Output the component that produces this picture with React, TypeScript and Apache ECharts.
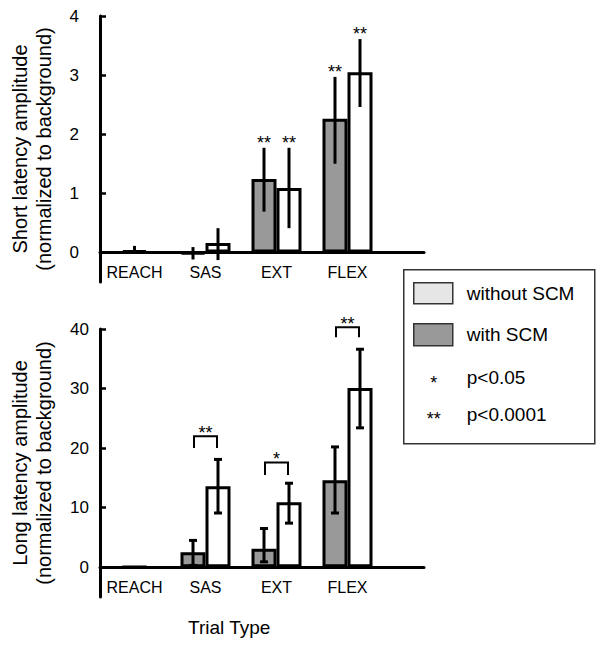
import React, { useEffect, useRef } from "react";
import * as echarts from "echarts";

const categories = ["REACH", "SAS", "EXT", "FLEX"];

// Short latency (top panel)
const shortWith = [null, -0.03, 1.24, 2.26];
const shortWithLow = [null, -0.12, 0.69, 1.5];
const shortWithHigh = [null, 0.09, 1.77, 2.97];
const shortWithout = [null, 0.16, 1.09, 3.05];
const shortWithoutLow = [null, -0.13, 0.41, 2.46];
const shortWithoutHigh = [null, 0.41, 1.77, 3.61];
const shortReach = [0.03, null, null, null];
const shortReachLow = [-0.02, null, null, null];
const shortReachHigh = [0.11, null, null, null];
const shortStarsWith = ["", "", "**", "**"];
const shortStarsWithout = ["", "", "**", "**"];
const shortTicks = [0, 1, 2, 3, 4];

// Long latency (bottom panel)
const longWith = [null, 2.5, 3.1, 14.6];
const longWithLow = [null, 0.3, 0.9, 9.1];
const longWithHigh = [null, 4.5, 6.5, 20.2];
const longWithout = [null, 13.6, 10.9, 30.1];
const longWithoutLow = [null, 9.1, 7.4, 23.4];
const longWithoutHigh = [null, 18.1, 14.1, 36.6];
const longReach = [0.1, null, null, null];
const longReachLow = [0.0, null, null, null];
const longReachHigh = [0.2, null, null, null];
const bracketTop = [null, 22.0, 17.6, 40.3];
const bracketBase = [null, 20.0, 15.5, 38.6];
const bracketStars = ["", "**", "*", "**"];
const longTicks = [0, 10, 20, 30, 40];

const legendLabels = ["without SCM", "with SCM", "p<0.05", "p<0.0001"];
const legendStars = ["*", "**"];

const FONT = "'Liberation Sans', Arial, Helvetica, sans-serif";
const GRAY = "#999999";
const BAR_W = 25;

function errData(low: (number | null)[], high: (number | null)[]) {
  return categories
    .map((_, i) => [i, low[i], high[i]])
    .filter((d) => d[1] != null && d[2] != null);
}

function errorRender(offset: number, cap: number, stars: string[] | null) {
  return (params: any, api: any) => {
    const i = api.value(0);
    const x = api.coord([i, 0])[0] + offset;
    const yl = api.coord([i, api.value(1)])[1];
    const yh = api.coord([i, api.value(2)])[1];
    const children: any[] = [
      {
        type: "line",
        shape: { x1: x, y1: yl, x2: x, y2: yh },
        style: { stroke: "#000", lineWidth: 3 },
      },
    ];
    if (cap > 0) {
      children.push({
        type: "line",
        shape: { x1: x - cap, y1: yh, x2: x + cap, y2: yh },
        style: { stroke: "#000", lineWidth: 3 },
      });
      children.push({
        type: "line",
        shape: { x1: x - cap, y1: yl, x2: x + cap, y2: yl },
        style: { stroke: "#000", lineWidth: 3 },
      });
    }
    const s = stars ? stars[i] : "";
    if (s) {
      children.push({
        type: "text",
        style: {
          text: s,
          x: x,
          y: yh - 5,
          align: "center",
          verticalAlign: "middle",
          fontSize: 18,
          fontFamily: FONT,
          fill: "#000",
        },
      });
    }
    return { type: "group", children };
  };
}

function bracketRender(params: any, api: any) {
  const i = api.value(0);
  const cx = api.coord([i, 0])[0];
  const yt = api.coord([i, api.value(1)])[1];
  const yb = api.coord([i, api.value(2)])[1];
  const xl = cx - BAR_W / 2 + 1;
  const xr = cx + BAR_W / 2 - 1;
  const s = bracketStars[i];
  return {
    type: "group",
    children: [
      {
        type: "polyline",
        shape: { points: [[xl, yb], [xl, yt], [xr, yt], [xr, yb]] },
        style: { stroke: "#000", lineWidth: 2, fill: "none" },
      },
      {
        type: "text",
        style: {
          text: s,
          x: cx,
          y: yt - 3,
          align: "center",
          verticalAlign: "middle",
          fontSize: 18,
          fontFamily: FONT,
          fill: "#000",
        },
      },
    ],
  };
}

function frameYAxis(gridIndex: number, min: number, max: number, ticks: number[], name: string, margin: number) {
  return {
    type: "value",
    gridIndex,
    min,
    max,
    splitLine: { show: false },
    axisLine: { show: true, lineStyle: { color: "#000", width: 3 } },
    axisTick: { show: true, inside: true, length: 6, lineStyle: { color: "#000", width: 2.5 }, customValues: ticks },
    axisLabel: { show: true, customValues: ticks, fontSize: 17, fontFamily: FONT, color: "#000", margin },
    name,
    nameLocation: "middle",
    nameRotate: 90,
    nameGap: 44,
    nameTextStyle: { fontSize: 20, lineHeight: 24, fontFamily: FONT, color: "#000" },
  };
}

function hiddenYAxis(gridIndex: number, min: number, max: number) {
  return {
    type: "value",
    gridIndex,
    min,
    max,
    splitLine: { show: false },
    axisLine: { show: false },
    axisTick: { show: false },
    axisLabel: { show: false },
  };
}

function frameXAxis(gridIndex: number) {
  return {
    type: "value",
    gridIndex,
    min: 0,
    max: 1,
    axisLine: { show: true, onZero: true, lineStyle: { color: "#000", width: 3 } },
    axisTick: { show: false },
    axisLabel: { show: false },
    splitLine: { show: false },
  };
}

function catXAxis(gridIndex: number, showLabels: boolean) {
  return {
    type: "category",
    gridIndex,
    position: "bottom",
    data: categories,
    axisLine: { show: false, onZero: false },
    axisTick: { show: false },
    splitLine: { show: false },
    axisLabel: { show: showLabels, fontSize: 16, fontFamily: FONT, color: "#000", margin: 12, interval: 0 },
  };
}

function barSeries(name: string, xAxisIndex: number, yAxisIndex: number, data: (number | null)[], color: string) {
  return {
    type: "bar",
    name,
    xAxisIndex,
    yAxisIndex,
    data,
    barWidth: BAR_W,
    barGap: "0%",
    clip: false,
    itemStyle: { color, borderColor: "#000", borderWidth: 3 },
    z: 2,
  };
}

function errSeries(xAxisIndex: number, yAxisIndex: number, low: any[], high: any[], offset: number, cap: number, stars: string[] | null) {
  return {
    type: "custom",
    xAxisIndex,
    yAxisIndex,
    data: errData(low, high),
    encode: { x: 0, y: [1, 2] },
    renderItem: errorRender(offset, cap, stars),
    z: 5,
    clip: false,
  };
}

export default function App() {
  const ref = useRef<HTMLDivElement>(null);
  useEffect(() => {
    if (!ref.current) return;
    const chart = echarts.init(ref.current, null, { renderer: "svg" });
    const off = BAR_W / 2;
    const option: any = {
      animation: false,
      backgroundColor: "#fff",
      grid: [
        { left: 96, top: 16, width: 328, height: 266 },
        { left: 99, top: 16, width: 284, height: 236.4 },
        { left: 96, top: 329, width: 328, height: 268 },
        { left: 99, top: 329, width: 284, height: 238.2 },
      ],
      xAxis: [
        frameXAxis(0),
        catXAxis(1, true),
        catXAxis(1, false),
        frameXAxis(2),
        catXAxis(3, true),
        catXAxis(3, false),
      ],
      yAxis: [
        frameYAxis(0, -0.5, 4, shortTicks, "Short latency amplitude\n(normalized to background)", 21),
        hiddenYAxis(1, 0, 4),
        frameYAxis(2, -5, 40, longTicks, "Long latency amplitude\n(normalized to background)", 11),
        hiddenYAxis(3, 0, 40),
      ],
      series: [
        barSeries("with SCM", 1, 1, shortWith, GRAY),
        barSeries("without SCM", 1, 1, shortWithout, "#fff"),
        barSeries("REACH", 2, 1, shortReach, "#fff"),
        errSeries(1, 1, shortWithLow, shortWithHigh, -off, 0, shortStarsWith),
        errSeries(1, 1, shortWithoutLow, shortWithoutHigh, off, 0, shortStarsWithout),
        errSeries(2, 1, shortReachLow, shortReachHigh, 0, 0, null),

        barSeries("with SCM", 4, 3, longWith, GRAY),
        barSeries("without SCM", 4, 3, longWithout, "#fff"),
        barSeries("REACH", 5, 3, longReach, "#fff"),
        errSeries(4, 3, longWithLow, longWithHigh, -off, 4, null),
        errSeries(4, 3, longWithoutLow, longWithoutHigh, off, 4, null),
        errSeries(5, 3, longReachLow, longReachHigh, 0, 0, null),
        {
          type: "custom",
          xAxisIndex: 4,
          yAxisIndex: 3,
          data: categories
            .map((_, i) => [i, bracketTop[i], bracketBase[i]])
            .filter((d) => d[1] != null),
          encode: { x: 0, y: [1, 2] },
          renderItem: bracketRender,
          z: 5,
          clip: false,
        },
      ],
      graphic: [
        {
          type: "text",
          left: 230 - 42,
          top: 618,
          style: { text: "Trial Type", fontSize: 19, fontFamily: FONT, fill: "#000" },
        },
        {
          type: "group",
          left: 403,
          top: 269,
          children: [
            { type: "rect", shape: { x: 0, y: 0, width: 191, height: 174 }, style: { fill: "#fff", stroke: "#333", lineWidth: 1.5 } },
            { type: "rect", shape: { x: 10, y: 13, width: 39, height: 21 }, style: { fill: "#e6e6e6", stroke: "#333", lineWidth: 1.5 } },
            { type: "rect", shape: { x: 10, y: 54, width: 39, height: 22 }, style: { fill: GRAY, stroke: "#333", lineWidth: 1.5 } },
            { type: "text", style: { text: legendLabels[0], x: 63, y: 24, verticalAlign: "middle", fontSize: 19, fontFamily: FONT, fill: "#000" } },
            { type: "text", style: { text: legendLabels[1], x: 63, y: 65, verticalAlign: "middle", fontSize: 19, fontFamily: FONT, fill: "#000" } },
            { type: "text", style: { text: legendStars[0], x: 30, y: 113, align: "center", verticalAlign: "middle", fontSize: 18, fontFamily: FONT, fill: "#000" } },
            { type: "text", style: { text: legendLabels[2], x: 63, y: 108, verticalAlign: "middle", fontSize: 19, fontFamily: FONT, fill: "#000" } },
            { type: "text", style: { text: legendStars[1], x: 30, y: 149, align: "center", verticalAlign: "middle", fontSize: 18, fontFamily: FONT, fill: "#000" } },
            { type: "text", style: { text: legendLabels[3], x: 63, y: 145, verticalAlign: "middle", fontSize: 19, fontFamily: FONT, fill: "#000" } },
          ],
        },
      ],
    };
    chart.setOption(option);
    return () => chart.dispose();
  }, []);
  return (
    <div
      ref={ref}
      style={{ position: "fixed", left: 0, top: 0, width: 600, height: 646, background: "#fff" }}
    />
  );
}
